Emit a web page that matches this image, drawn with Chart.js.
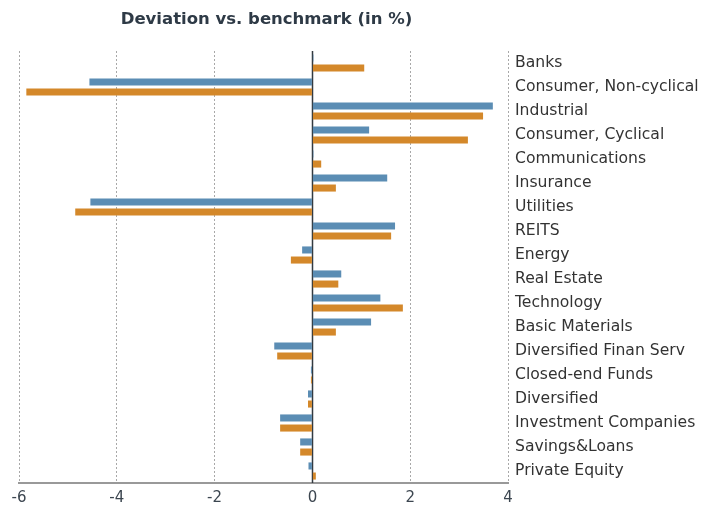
<!DOCTYPE html>
<html>
<head>
<meta charset="utf-8">
<script src="https://cdn.jsdelivr.net/npm/chart.js@4/dist/chart.umd.min.js"></script>
<style>
  html, body { margin:0; padding:0; background:#fff; }
  #wrap { width:703px; height:506px; position:relative; }
</style>
</head>
<body>
<div id="wrap"><canvas id="chart"></canvas></div>
<script>
// ==== Data ====
const chartTitle = 'Deviation vs. benchmark (in %)';
const categories = [
  'Banks', 'Consumer, Non-cyclical', 'Industrial', 'Consumer, Cyclical',
  'Communications', 'Insurance', 'Utilities', 'REITS', 'Energy',
  'Real Estate', 'Technology', 'Basic Materials', 'Diversified Finan Serv',
  'Closed-end Funds', 'Diversified', 'Investment Companies', 'Savings&Loans',
  'Private Equity'
];
const seriesA = [0.02, -4.56, 3.69, 1.16, 0.02, 1.53, -4.54, 1.69, -0.21,
  0.59, 1.39, 1.20, -0.78, -0.03, -0.09, -0.66, -0.25, -0.08];
const seriesB = [1.06, -5.85, 3.49, 3.18, 0.18, 0.48, -4.85, 1.61, -0.44,
  0.53, 1.85, 0.48, -0.72, -0.03, -0.09, -0.66, -0.25, 0.07];
const xTicks = [-6, -4, -2, 0, 2, 4];

const FONT = "'DejaVu Sans', Verdana, sans-serif";

// title centred over the plot area, zero line solid
const extras = {
  id: 'extras',
  beforeDatasetsDraw(chart){
    const {ctx, chartArea:a, scales:{x}} = chart;
    const zx = Math.round(x.getPixelForValue(0)) + 0.5;
    ctx.save();
    ctx.strokeStyle = '#333a40';
    ctx.lineWidth = 1.5;
    ctx.beginPath(); ctx.moveTo(zx, a.top); ctx.lineTo(zx, a.bottom); ctx.stroke();
    ctx.restore();
  },
  afterDraw(chart){
    const {ctx, chartArea:a} = chart;
    ctx.save();
    ctx.font = "bold 16.5px " + FONT;
    ctx.fillStyle = '#2e3a46';
    ctx.textAlign = 'center';
    ctx.textBaseline = 'middle';
    ctx.fillText(chartTitle, (a.left + a.right)/2 + 3, 20);
    ctx.restore();
  }
};

new Chart(document.getElementById('chart'), {
  type: 'bar',
  data: {
    labels: categories,
    datasets: [
      { label: 'Portfolio', data: seriesA, backgroundColor: '#5b8db4',
        categoryPercentage: 0.84, barPercentage: 0.7 },
      { label: 'Benchmark', data: seriesB, backgroundColor: '#d4882a',
        categoryPercentage: 0.84, barPercentage: 0.7 }
    ]
  },
  options: {
    indexAxis: 'y',
    responsive: true,
    maintainAspectRatio: false,
    animation: false,
    layout: { padding: { left: 19, right: 0, top: 51, bottom: 0 } },
    plugins: { legend: { display: false }, title: { display: false }, tooltip: { enabled: false } },
    scales: {
      x: {
        min: -6, max: 4,
        afterBuildTicks(s){ s.ticks = xTicks.map(v => ({value: v})); },
        afterFit(s){ s.height = 23; },
        grid: {
          drawTicks: false,
          lineWidth: 1,
          color: c => (c.tick && c.tick.value === 0) ? 'rgba(0,0,0,0)' : '#a8a8a8'
        },
        border: { display: true, color: '#999', width: 2, dash: [2, 2] },
        ticks: { color: '#3c4650', padding: 6, font: { family: FONT, size: 15 } }
      },
      y: {
        position: 'right',
        afterFit(s){ s.width = 195; },
        grid: { display: false, drawTicks: false },
        border: { display: false },
        ticks: { color: '#333', padding: 7, crossAlign: 'near', font: { family: FONT, size: 15.6 } }
      }
    }
  },
  plugins: [extras]
});
</script>
</body>
</html>
